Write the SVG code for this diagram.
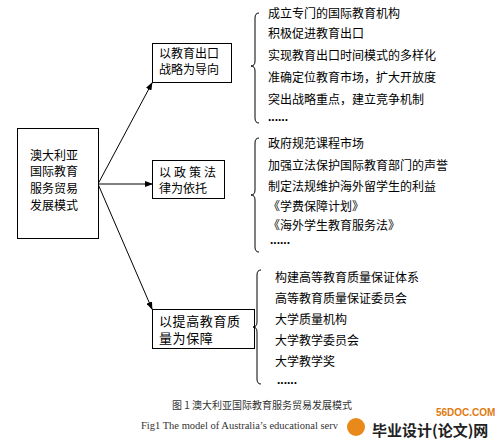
<svg xmlns="http://www.w3.org/2000/svg" width="504" height="442" viewBox="0 0 504 442">
<style>
.box{fill:#fff;stroke:#000;stroke-width:1}
.t{font-family:"Noto Sans CJK SC","Noto Sans",sans-serif;font-size:12px;fill:#000}
.t14{font-family:"Noto Sans CJK SC","Noto Sans",sans-serif;font-size:13px;letter-spacing:0.6px;fill:#000}
.dots{font-family:"Liberation Sans",sans-serif;font-size:12px;font-weight:bold;fill:#000}
.conn{stroke:#000;stroke-width:1;fill:none}
.brace{stroke:#000;stroke-width:1;fill:none}
.cap{font-family:"Noto Sans CJK SC",sans-serif;font-size:10px;fill:#333}
.capen{font-family:"Liberation Serif",serif;font-size:10.5px;fill:#333}
</style>
<defs>
<marker id="ah" markerWidth="8" markerHeight="6" refX="7" refY="3" orient="auto" markerUnits="userSpaceOnUse">
<path d="M0,0 L8,3 L0,6 Z" fill="#000"/>
</marker>
</defs>
<rect width="504" height="442" fill="#fff"/>

<g id="connectors">
<line class="conn" x1="98" y1="184" x2="152" y2="83" marker-end="url(#ah)"/>
<line class="conn" x1="98" y1="184" x2="152" y2="184" marker-end="url(#ah)"/>
<line class="conn" x1="98" y1="184" x2="152" y2="309" marker-end="url(#ah)"/>
</g>

<g id="root">
<rect class="box" x="17.5" y="128.5" width="81" height="110"/>
<text class="t" x="30" y="159.5">澳大利亚</text>
<text class="t" x="30" y="176">国际教育</text>
<text class="t" x="30" y="192.5">服务贸易</text>
<text class="t" x="30" y="209.5">发展模式</text>
</g>

<g id="n1">
<rect class="box" x="152.5" y="43.5" width="79" height="39"/>
<text class="t" x="159" y="58">以教育出口</text>
<text class="t" x="159" y="74">战略为导向</text>
</g>

<g id="n2">
<rect class="box" x="152.5" y="160.5" width="72" height="38"/>
<text class="t" x="159" y="177" letter-spacing="3">以政策法</text>
<text class="t" x="159" y="193">律为依托</text>
</g>

<g id="n3">
<rect class="box" x="152.5" y="309.5" width="102" height="39"/>
<text class="t14" x="159" y="325.5">以提高教育质</text>
<text class="t14" x="159" y="343">量为保障</text>
</g>

<g id="list1">
<path class="brace" d="M259,13 Q255,13 255,18 L255,61 Q255,66 251,66 Q255,66 255,71 L255,118 Q255,123 259,123"/>
<text class="t" x="268" y="17.5">成立专门的国际教育机构</text>
<text class="t" x="268" y="38">积极促进教育出口</text>
<text class="t" x="268" y="60">实现教育出口时间模式的多样化</text>
<text class="t" x="268" y="82">准确定位教育市场，扩大开放度</text>
<text class="t" x="268" y="104">突出战略重点，建立竞争机制</text>
<text class="dots" x="268" y="121">......</text>
</g>

<g id="list2">
<path class="brace" d="M259,138 Q255,138 255,143 L255,190 Q255,195 251,195 Q255,195 255,200 L255,247 Q255,252 259,252"/>
<text class="t" x="268" y="147.5">政府规范课程市场</text>
<text class="t" x="268" y="169.5">加强立法保护国际教育部门的声誉</text>
<text class="t" x="268" y="190.5">制定法规维护海外留学生的利益</text>
<text class="t" x="268" y="210.5">《学费保障计划》</text>
<text class="t" x="268" y="229.5">《海外学生教育服务法》</text>
<text class="dots" x="270" y="244">......</text>
</g>

<g id="list3">
<path class="brace" d="M261,270 Q257,270 257,275 L257,322 Q257,327 253,327 Q257,327 257,332 L257,379 Q257,384 261,384"/>
<text class="t" x="275" y="281.5">构建高等教育质量保证体系</text>
<text class="t" x="275" y="302.5">高等教育质量保证委员会</text>
<text class="t" x="275" y="323.5">大学质量机构</text>
<text class="t" x="275" y="344.5">大学教学委员会</text>
<text class="t" x="275" y="365.5">大学教学奖</text>
<text class="dots" x="277" y="384">......</text>
</g>

<g id="caption">
<text class="cap" x="172" y="409">图 1  澳大利亚国际教育服务贸易发展模式</text>
<text class="capen" x="141" y="429">Fig1 The model of Australia’s educational serv</text>
</g>

<g id="logo">
<circle cx="356" cy="427" r="9" fill="#e8891a"/>
<text x="436" y="416" font-family="Liberation Sans,sans-serif" font-size="10px" font-weight="bold" fill="#e07a10">56DOC.COM</text>
<text x="372" y="436" font-family="Noto Sans CJK SC,sans-serif" font-size="15px" font-weight="bold" fill="#222">毕业设计(论文)网</text>
</g>
</svg>
